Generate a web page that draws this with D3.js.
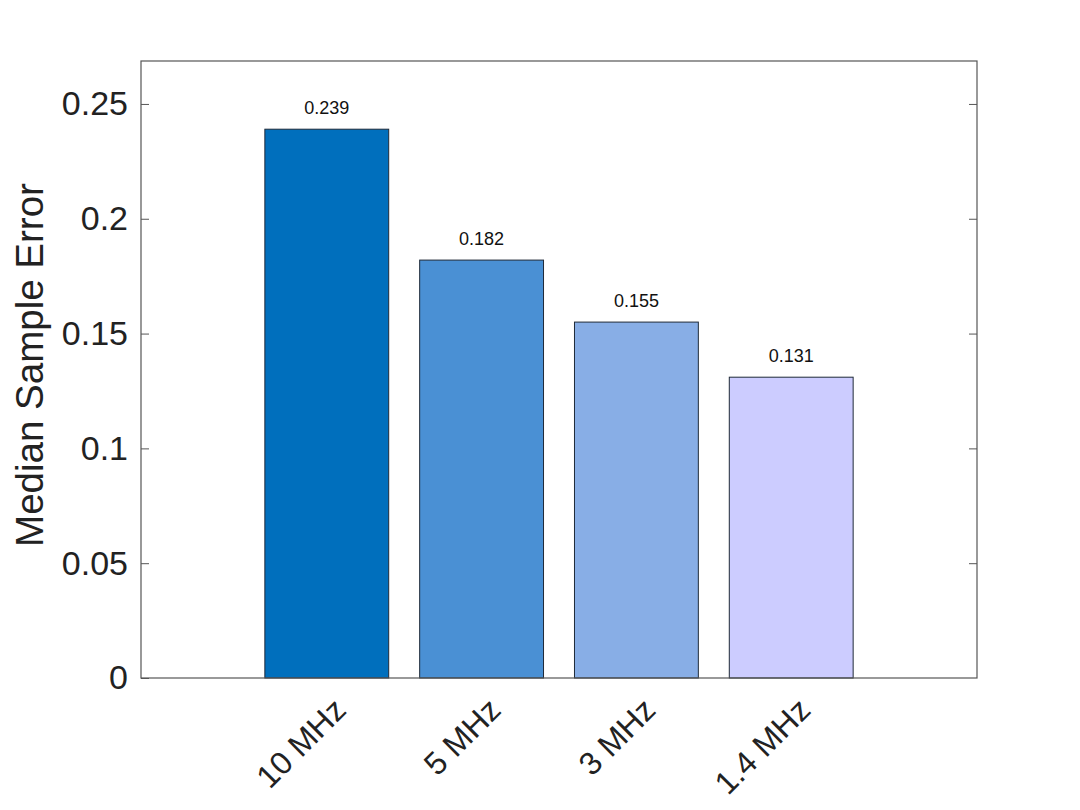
<!DOCTYPE html>
<html><head><meta charset="utf-8">
<script src="https://cdn.jsdelivr.net/npm/d3@7"></script>
<style>body{margin:0;background:#fff;} svg{display:block;}</style>
</head><body>
<svg id="c" width="1080" height="810"></svg>
<script>
const categories = ["10 MHz", "5 MHz", "3 MHz", "1.4 MHz"];
const values = [0.239, 0.182, 0.155, 0.131];
const valueLabels = ["0.239", "0.182", "0.155", "0.131"];
const barColors = ["#006fbd", "#4a90d4", "#88aee6", "#ccccff"];
const yTicks = [0, 0.05, 0.1, 0.15, 0.2, 0.25];
const yTickLabels = ["0", "0.05", "0.1", "0.15", "0.2", "0.25"];
const yLabel = "Median Sample Error";

const svg = d3.select("#c");
const L = 141, R = 977, T = 61, B = 678;
const font = "'Liberation Sans', Arial, Helvetica, sans-serif";

const x = d3.scaleLinear().domain([-0.2, 5.2]).range([L, R]);
const y = d3.scaleLinear().domain([0, 0.2687]).range([B, T]);
const bw = x(0.8) - x(0);

// bars
svg.selectAll("rect.bar").data(values).enter().append("rect")
  .attr("x", (d, i) => x(i + 1) - bw / 2)
  .attr("y", d => y(d))
  .attr("width", bw)
  .attr("height", d => y(0) - y(d))
  .attr("fill", (d, i) => barColors[i])
  .attr("stroke", "#1f2a38").attr("stroke-width", 1);

// value labels
svg.selectAll("text.val").data(values).enter().append("text")
  .attr("x", (d, i) => x(i + 1))
  .attr("y", d => y(d) - 15)
  .attr("text-anchor", "middle")
  .attr("font-family", font).attr("font-size", 18).attr("fill", "#111")
  .text((d, i) => valueLabels[i]);

// axes box
svg.append("rect").attr("x", L).attr("y", T).attr("width", R - L).attr("height", B - T)
  .attr("fill", "none").attr("stroke", "#555").attr("stroke-width", 1.2);

// y ticks left & right
const yAxisL = d3.axisLeft(y).tickValues(yTicks).tickSize(-8).tickPadding(13)
  .tickFormat((d, i) => yTickLabels[i]);
const gl = svg.append("g").attr("transform", `translate(${L},0)`).call(yAxisL);
gl.select(".domain").remove();
gl.selectAll("line").attr("stroke", "#555");
gl.selectAll("text").attr("font-family", font).attr("font-size", 34).attr("fill", "#222");

const yAxisR = d3.axisRight(y).tickValues(yTicks.filter(v => v > 0)).tickSize(-8).tickFormat("");
const gr = svg.append("g").attr("transform", `translate(${R},0)`).call(yAxisR);
gr.select(".domain").remove();
gr.selectAll("line").attr("stroke", "#555");

// x tick labels rotated
svg.selectAll("text.xl").data(categories).enter().append("text")
  .attr("transform", (d, i) => `translate(${x(i + 1) + 21},${B + 34}) rotate(-45)`)
  .attr("text-anchor", "end")
  .attr("font-family", font).attr("font-size", 32).attr("fill", "#222")
  .text(d => d);

// y label
svg.append("text")
  .attr("transform", `translate(43,365) rotate(-90)`)
  .attr("text-anchor", "middle")
  .attr("font-family", font).attr("font-size", 38.5).attr("fill", "#222")
  .text(yLabel);
</script>
</body></html>
